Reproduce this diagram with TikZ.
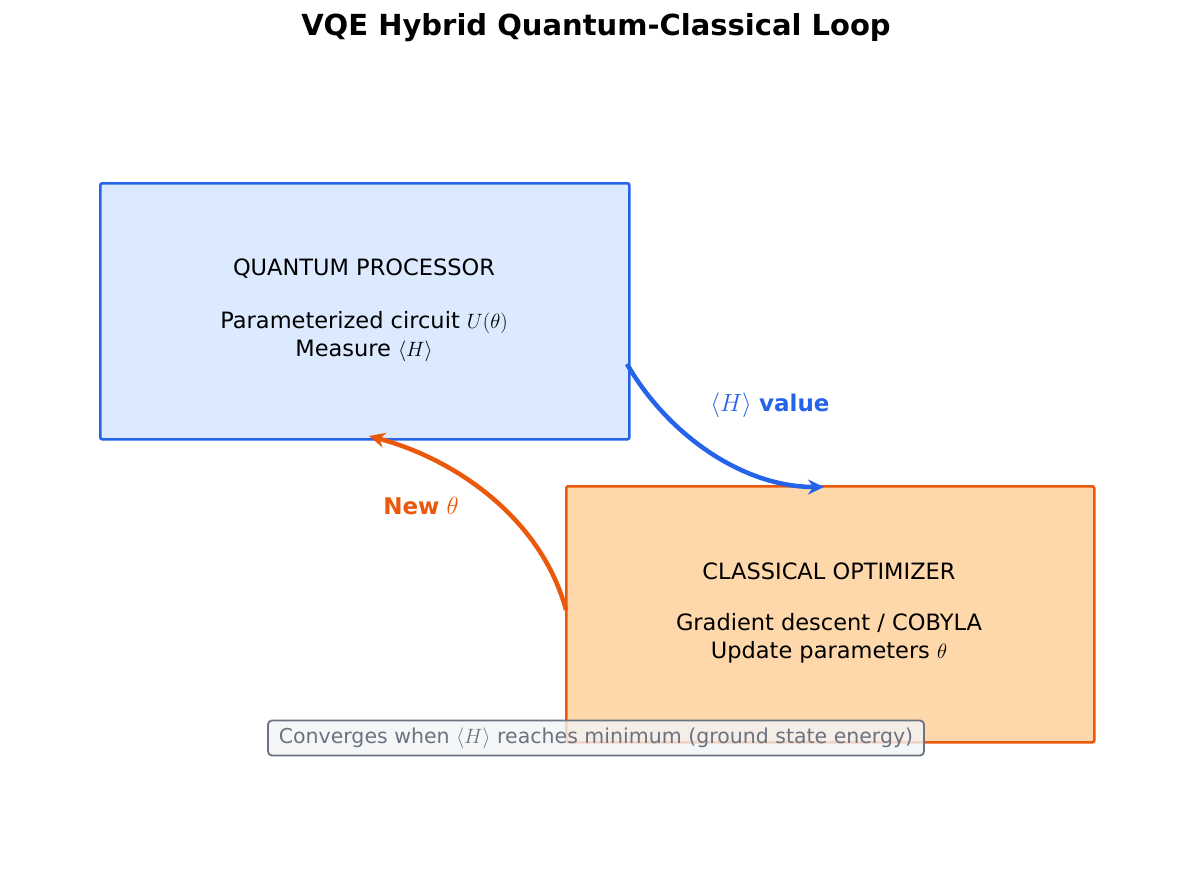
\documentclass[tikz,border=0pt]{standalone}
\usepackage{fontspec}
\setmainfont{DejaVu Sans}
\usetikzlibrary{arrows.meta}
\definecolor{qblue}{HTML}{2563EB}
\definecolor{qfill}{HTML}{DBEAFE}
\definecolor{corange}{HTML}{EA580C}
\definecolor{cfill}{HTML}{FED7AA}
\definecolor{notegray}{HTML}{6B7280}
\definecolor{notefill}{HTML}{F3F4F6}
\tikzset{
  procbox/.style={draw, line width=2.6pt, rounded corners=2pt, anchor=north west},
  boxtext/.style={font=\fontsize{22.5}{28}\selectfont, align=center},
  loop/.style={line width=4.5pt, -{Stealth[length=16pt,width=15pt]}},
}
\begin{document}
\begin{tikzpicture}[x=1pt,y=-1pt]
  \useasboundingbox (0,0) rectangle (1192,881);

  \node[font=\fontsize{29}{34}\selectfont\bfseries] (title) at (596,28) {VQE Hybrid Quantum-Classical Loop};

  % the two stages
  \node[procbox, color=qblue, fill=qfill, minimum width=529pt, minimum height=256pt] (qp) at (99,182) {};
  \node[procbox, color=corange, fill=cfill, minimum width=528pt, minimum height=256pt] (co) at (565,485) {};

  \node[boxtext] (qptitle) at (364,269) {QUANTUM PROCESSOR};
  \node[boxtext] (qpbody) at (364,337) {Parameterized circuit $U(\theta)$\\Measure $\langle H\rangle$};
  \node[boxtext] (cotitle) at (829,571) {CLASSICAL OPTIMIZER};
  \node[boxtext] (cobody) at (829,638) {Gradient descent / COBYLA\\Update parameters $\theta$};

  % loop arrows
  \coordinate (qpout) at (627,364);
  \coordinate (coin) at (824,487);
  \coordinate (coout) at (566,610);
  \coordinate (qpin) at (369,436);
  \draw[loop, qblue] (qpout) to[out=-60, in=180, looseness=0.9] (coin);
  \draw[loop, corange] (coout) to[out=105, in=-15, looseness=0.9] (qpin);
  \node[text=qblue, font=\fontsize{23}{27}\selectfont] (hval) at (770,405) {$\langle H\rangle$ \textbf{value}};
  \node[text=corange, font=\fontsize{23}{27}\selectfont] (newtheta) at (421,506) {\textbf{New} $\theta$};

  \node[draw=notegray, line width=1.8pt, fill=notefill, fill opacity=0.8, text opacity=1, text=notegray,
        rounded corners=4pt, inner sep=2pt, minimum width=656pt, minimum height=35pt,
        font=\fontsize{20.5}{24}\selectfont] (note) at (596,738)
        {Converges when $\langle H\rangle$ reaches minimum (ground state energy)};
\end{tikzpicture}
\end{document}
